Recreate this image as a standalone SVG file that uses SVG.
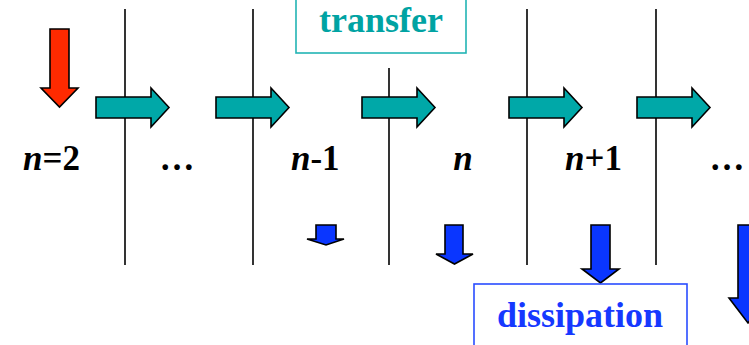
<svg xmlns="http://www.w3.org/2000/svg" width="749" height="345" viewBox="0 0 749 345">
<style>
.wall{stroke:#000;stroke-width:1.6;fill:none}
.teal{fill:#00a8a8;stroke:#000;stroke-width:1.6;stroke-linejoin:miter}
.blue{fill:#0a36ff;stroke:#000;stroke-width:1.6}
.red{fill:#ff2a00;stroke:#000;stroke-width:1.6}
</style>
<defs>
<path id="ta" d="M0,97 H55 V88 L73,107.5 L55,127 V118 H0 Z"/>
</defs>
<rect width="749" height="345" fill="#fff"/>
<g id="walls">
<line class="wall" x1="125" y1="9" x2="125" y2="265"/>
<line class="wall" x1="253" y1="9" x2="253" y2="265"/>
<line class="wall" x1="389" y1="68" x2="389" y2="265"/>
<line class="wall" x1="527" y1="9" x2="527" y2="265"/>
<line class="wall" x1="656" y1="9" x2="656" y2="265"/>
</g>
<g id="connectors">
<path id="input" class="red" d="M50,29 H69 V88 H78 L59.5,107 L41,88 H50 Z"/>
<use href="#ta" class="teal" x="96"/>
<use href="#ta" class="teal" x="216"/>
<use href="#ta" class="teal" x="362"/>
<use href="#ta" class="teal" x="509"/>
<use href="#ta" class="teal" x="637"/>
<path class="blue" d="M316,225 H336 V239 H344 L326,245 L307,239 H316 Z"/>
<path class="blue" d="M445,225 H463 V254 H473 L454.5,264 L436,254 H445 Z"/>
<path class="blue" d="M591,225 H610 V269 H619 L600.5,283 L582,269 H591 Z"/>
<path class="blue" d="M738,225 H758 V298 H767 L748,323 L729,298 H738 Z"/>
</g>
<g id="transfer">
<rect x="296" y="-5" width="170" height="58" fill="#fff" stroke="#22b4b4" stroke-width="1.6"/>
<text x="381" y="32" text-anchor="middle" font-family="Liberation Serif, serif" font-weight="bold" font-size="36" fill="#00a3a3">transfer</text>
</g>
<g id="dissipation">
<rect x="474" y="284" width="213" height="70" fill="#fff" stroke="#2a4dff" stroke-width="1.6"/>
<text x="580" y="327" text-anchor="middle" font-family="Liberation Serif, serif" font-weight="bold" font-size="36" fill="#1638ff">dissipation</text>
</g>
<g id="labels" font-family="Liberation Serif, serif" font-weight="bold" font-size="35" fill="#000">
<text x="23" y="170"><tspan font-style="italic">n</tspan>=2</text>
<text x="177" y="170" text-anchor="middle">…</text>
<text x="291" y="170"><tspan font-style="italic">n</tspan>-1</text>
<text x="463" y="170" text-anchor="middle" font-style="italic">n</text>
<text x="565" y="170"><tspan font-style="italic">n</tspan>+1</text>
<text x="727" y="170" text-anchor="middle">…</text>
</g>
</svg>
